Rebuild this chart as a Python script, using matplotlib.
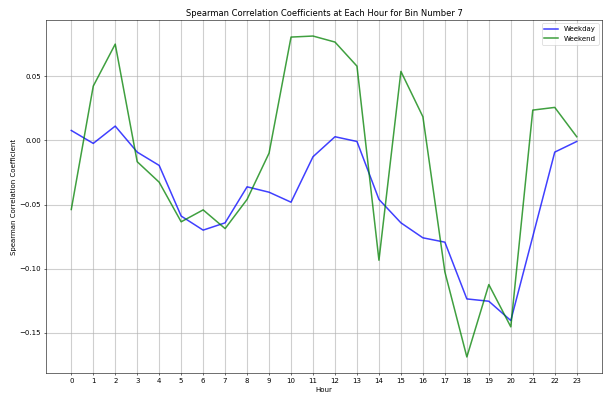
import numpy as np
import matplotlib
matplotlib.use("Agg")
import matplotlib.pyplot as plt

hours = list(range(24))

weekday = [0.0078, -0.0023, 0.0112, -0.0091, -0.0195, -0.0590, -0.0700, -0.0643,
           -0.0362, -0.0404, -0.0482, -0.0127, 0.0029, -0.0008, -0.0460, -0.0643,
           -0.0760, -0.0794, -0.1237, -0.1255, -0.1406, -0.0750, -0.0091, -0.0008]

weekend = [-0.0539, 0.0424, 0.0752, -0.0166, -0.0326, -0.0635, -0.0542, -0.0688,
           -0.0460, -0.0099, 0.0807, 0.0815, 0.0768, 0.0580, -0.0935, 0.0539,
           0.0185, -0.1026, -0.1690, -0.1125, -0.1455, 0.0237, 0.0258, 0.0029]

fig = plt.figure(figsize=(12.1, 7.9), dpi=50)
ax = fig.add_axes([46 / 605, 22 / 395, 556 / 605, 353 / 395])

ax.plot(hours, weekday, color='blue', label='Weekday', linewidth=2.2, alpha=0.75)
ax.plot(hours, weekend, color='green', label='Weekend', linewidth=2.2, alpha=0.75)

ax.set_title('Spearman Correlation Coefficients at Each Hour for Bin Number 7')
ax.set_xlabel('Hour')
ax.set_ylabel('Spearman Correlation Coefficient')
ax.set_xticks(hours)
ax.grid(True, linewidth=1.6, alpha=0.6)
ax.legend()

fig.savefig("out.png", dpi=50)
